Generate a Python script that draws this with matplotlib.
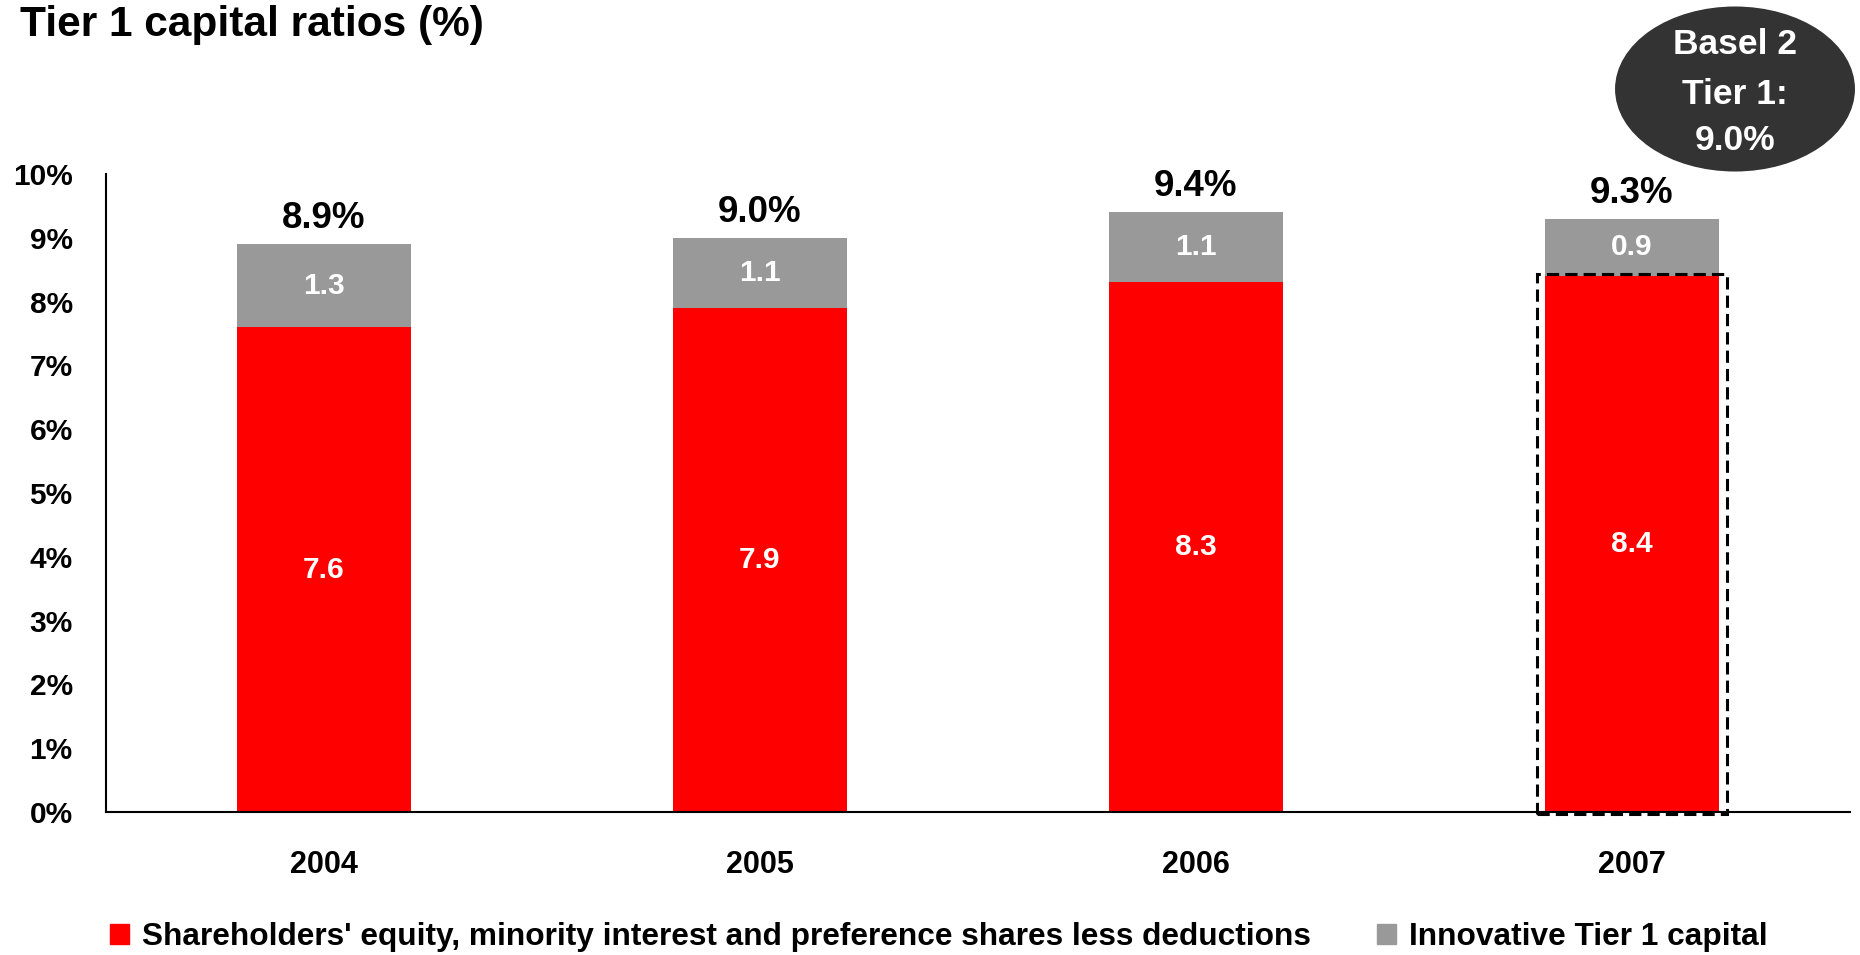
import matplotlib.pyplot as plt
import numpy as np
from matplotlib.patches import Ellipse, Patch, Rectangle

plt.rcParams['font.family'] = ['Liberation Sans', 'DejaVu Sans']
plt.rcParams['font.weight'] = 'bold'

# Tier 1 capital ratio components (%)
years = ['2004', '2005', '2006', '2007']
equity = [7.6, 7.9, 8.3, 8.4]
innovative = [1.3, 1.1, 1.1, 0.9]
totals = [8.9, 9.0, 9.4, 9.3]
yticks = list(range(0, 11))

red = '#ff0000'
grey = '#999999'

fig = plt.figure(figsize=(18.6, 9.55), dpi=100)
ax = fig.add_axes([0.057, 0.1497, 0.9376, 0.6681])

x = np.arange(len(years))
w = 0.4
ax.bar(x, equity, width=w, color=red, zorder=2)
ax.bar(x, innovative, width=w, bottom=equity, color=grey, zorder=2)

for xi, e, i, t in zip(x, equity, innovative, totals):
    ax.text(xi, e / 2, f'{e:.1f}', ha='center', va='center',
            color='white', fontsize=21.5, fontweight='bold')
    ax.text(xi, e + i / 2, f'{i:.1f}', ha='center', va='center',
            color='white', fontsize=21.5, fontweight='bold')
    ax.text(xi, t + 0.40, f'{t:.1f}%', ha='center', va='center',
            color='black', fontsize=26.5, fontweight='bold')

# dashed box round the 2007 core equity bar
box = Rectangle((x[-1] - w / 2 - 0.017, -0.03), w + 0.034, equity[-1] + 0.07,
                fill=False, edgecolor='black', linewidth=2.2,
                linestyle=(0, (4, 2)), clip_on=False, zorder=3)
ax.add_patch(box)

ax.set_xlim(-0.5, len(years) - 0.5)
ax.set_ylim(0, 10)
ax.set_yticks(yticks)
ax.set_yticklabels([f'{v}%' for v in yticks], fontsize=21.5, fontweight='bold')
ax.set_xticks(x)
ax.set_xticklabels(years, fontsize=22, fontweight='bold')
ax.tick_params(axis='y', length=0, pad=24)
ax.tick_params(axis='x', length=0, pad=27)
for s in ['top', 'right']:
    ax.spines[s].set_visible(False)
ax.spines['left'].set_linewidth(1.5)
ax.spines['bottom'].set_linewidth(1.5)

fig.text(0.0108, 0.995, 'Tier 1 capital ratios (%)', ha='left', va='top',
         fontsize=30.5, fontweight='bold')

# Basel 2 callout
ell = Ellipse((0.9328, 0.9068), 0.129, 0.1728, transform=fig.transFigure,
              facecolor='#333333', edgecolor='none')
fig.patches.append(ell)
for line, yy in zip(['Basel 2', 'Tier 1:', '9.0%'], [0.953, 0.9015, 0.853]):
    fig.text(0.9328, yy, line, ha='center', va='center', color='white',
             fontsize=25.5, fontweight='bold')

handles = [Patch(color=red, label="Shareholders' equity, minority interest and preference shares less deductions"),
           Patch(color=grey, label='Innovative Tier 1 capital')]
fig.legend(handles=handles, loc='center left', bbox_to_anchor=(0.0591, 0.019),
           ncol=2, frameon=False, fontsize=22.8, handlelength=0.6,
           handleheight=0.6, handletextpad=0.4, columnspacing=2.1,
           borderaxespad=0, borderpad=0)

fig.savefig('out.png', dpi=100)
